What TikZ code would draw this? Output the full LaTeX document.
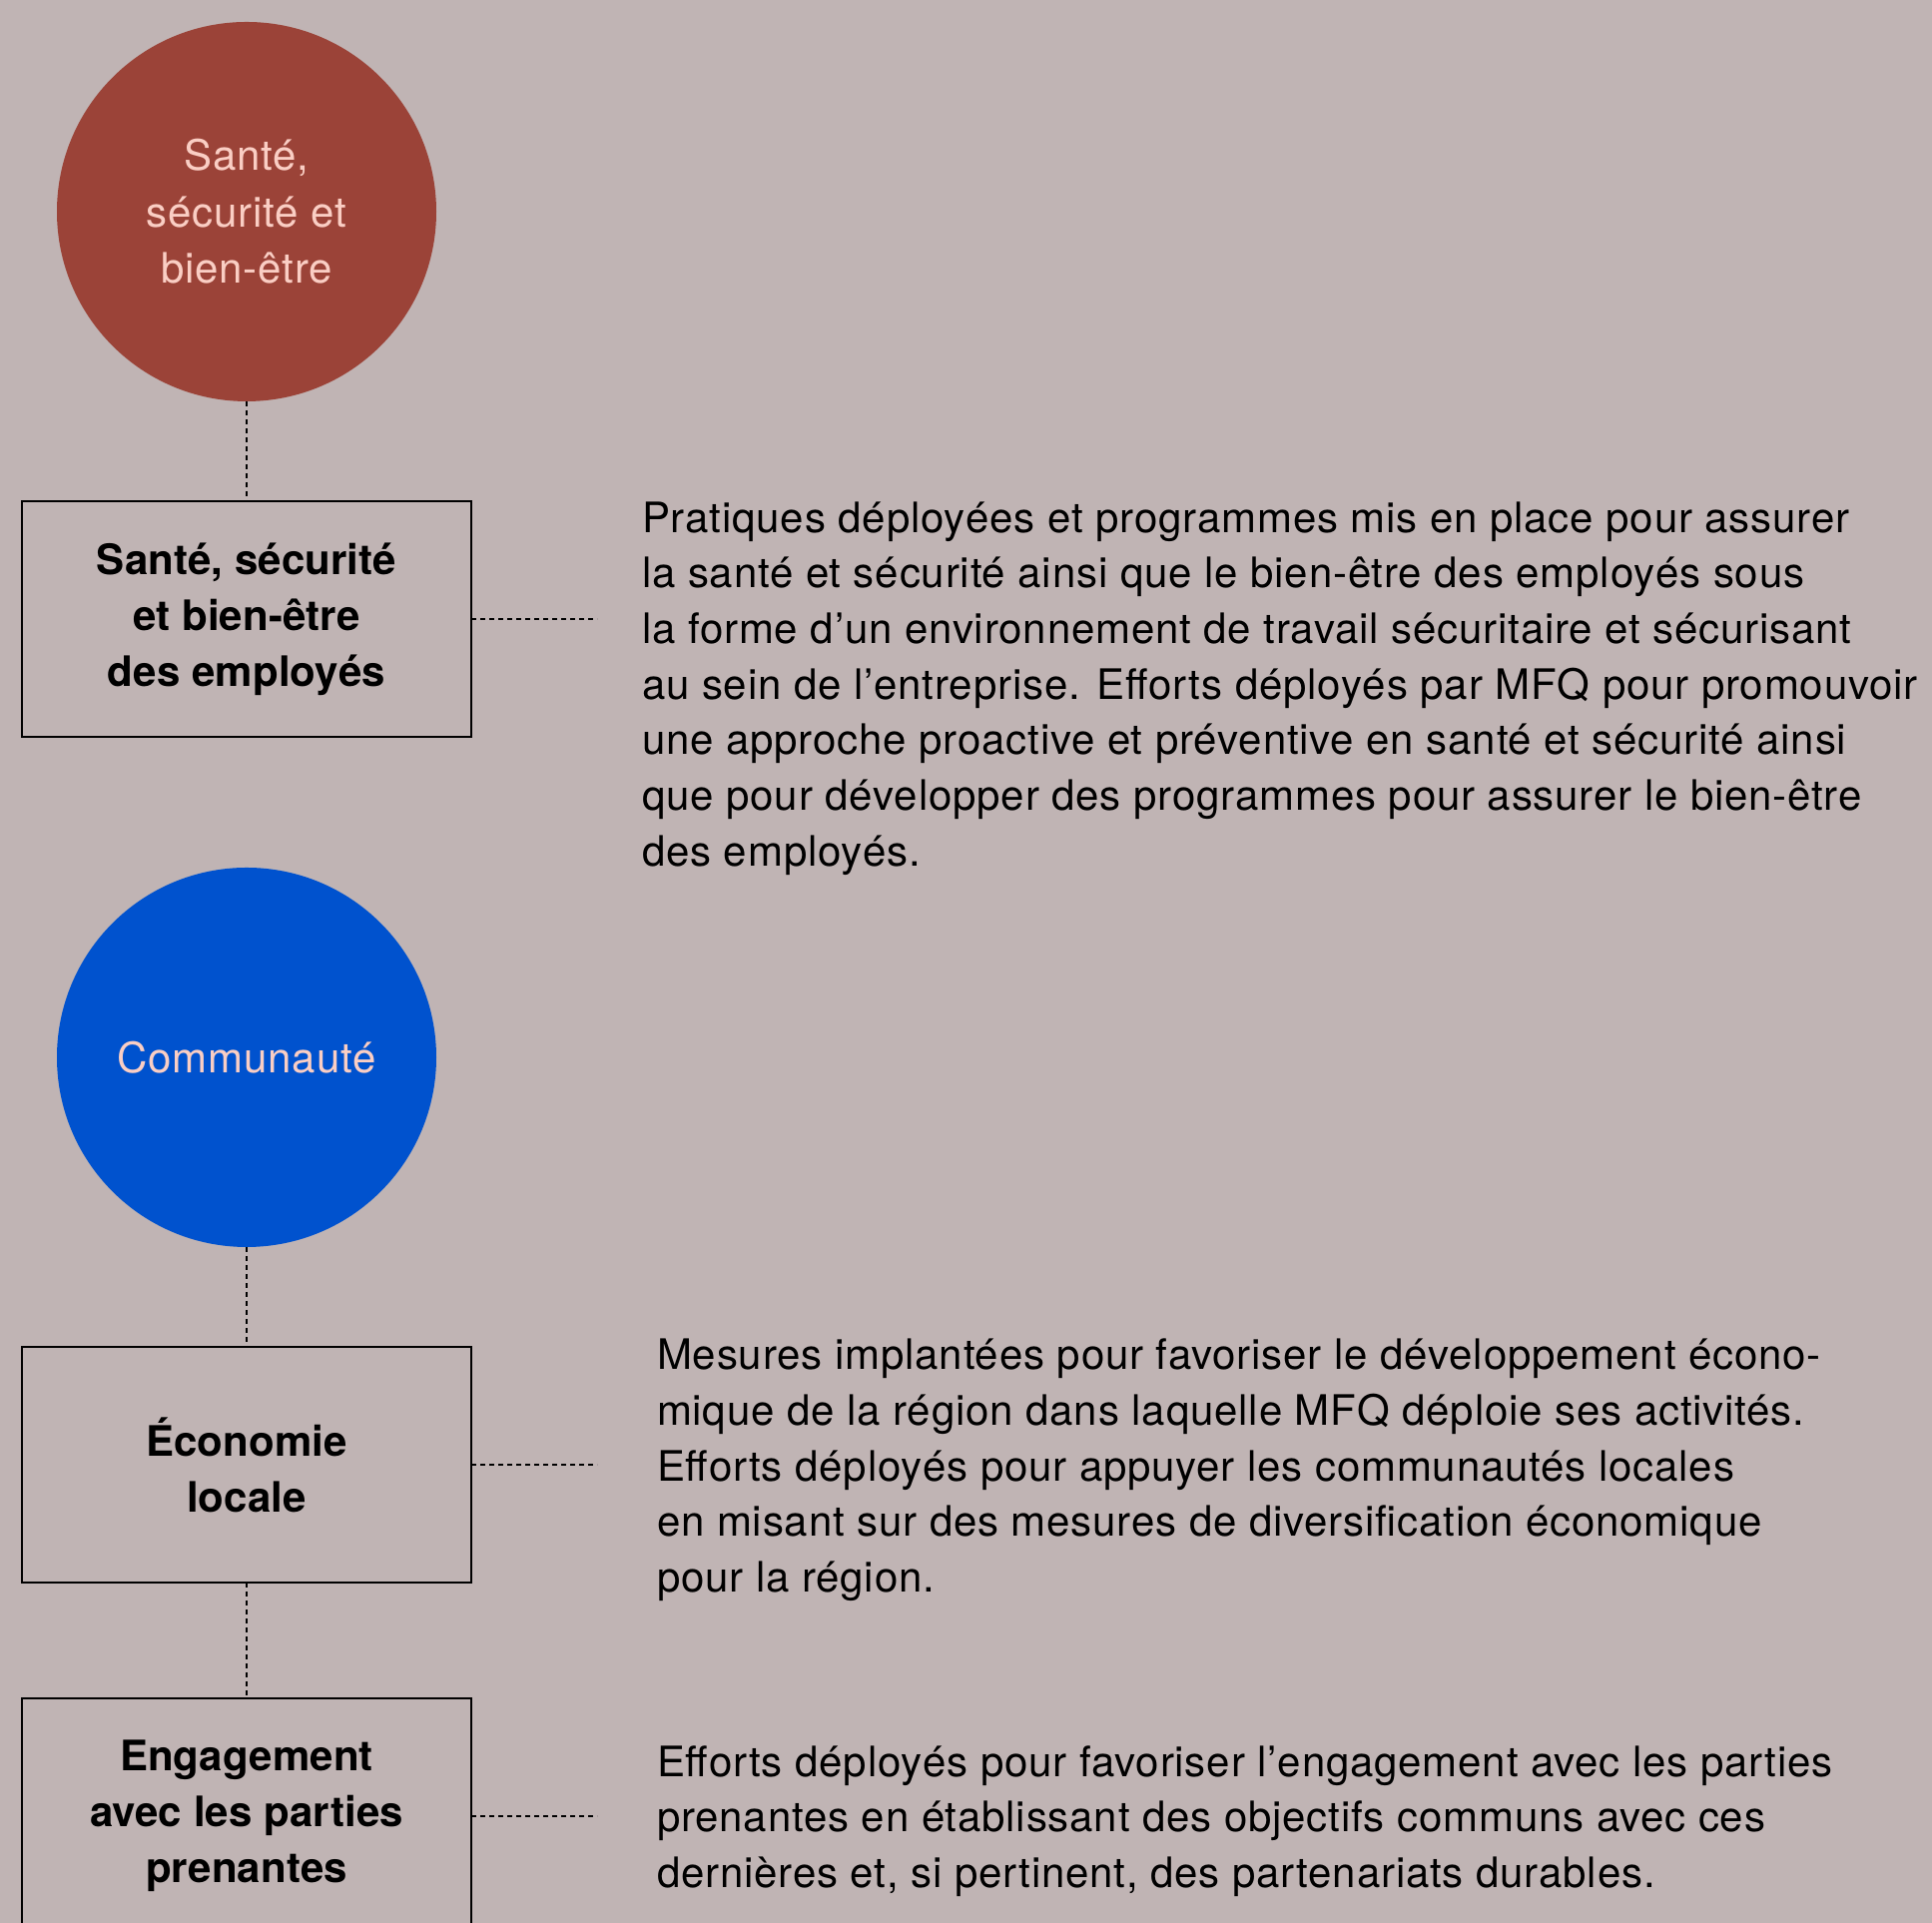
\documentclass[tikz,border=0pt]{standalone}
\usepackage{fontspec}
\setmainfont{TeX Gyre Heros}[LetterSpace=2.0, BoldFeatures={LetterSpace=0.3}]
\usepackage{tikz}
\usetikzlibrary{positioning}

\definecolor{fond}{RGB}{192,180,180}
\definecolor{brique}{RGB}{155,67,56}
\definecolor{bleu}{RGB}{0,82,206}
\definecolor{rose}{RGB}{250,206,196}

\begin{document}
\begin{tikzpicture}[x=0.5pt, y=0.5pt,
    theme/.style={circle, minimum size=190pt, inner sep=0pt, outer sep=0pt, align=center, text=rose, font=\fontsize{21}{28.2}\selectfont},
    critere/.style={rectangle, draw, line width=1.1pt, minimum width=225pt, minimum height=118pt, outer sep=0pt, align=center, font=\fontsize{21}{28}\selectfont\bfseries},
    lien/.style={line width=0.9pt, dash pattern=on 2.5pt off 2pt},
    texte/.style={anchor=north west, inner sep=0pt, outer sep=0pt, align=left, font=\fontsize{21}{27.85}\selectfont}]
    \useasboundingbox[fill=fond] (0,0) rectangle (1935,1926);

    % Thème Santé
    \node[theme, fill=brique] (sante) at (247,1714) {Santé,\\sécurité et\\bien-être};
    \node[critere, below=50pt of sante] (employes) {Santé, sécurité\\et bien-être\\des employés};

    % Thème Communauté
    \node[theme, fill=bleu, below=65.5pt of employes] (communaute) {Communauté};
    \node[critere, below=50pt of communaute] (economie) {Économie\\locale};
    \node[critere, below=58pt of economie] (engagement) {Engagement\\avec les parties\\prenantes};

    % Liens verticaux
    \draw[lien] (sante) -- (employes);
    \draw[lien] (communaute) -- (economie);
    \draw[lien] (economie) -- (engagement);

    % Liens vers les descriptions
    \coordinate (c1) at ([xshift=63pt]employes.east);
    \coordinate (c2) at ([xshift=63pt]economie.east);
    \coordinate (c3) at ([xshift=63pt]engagement.east);
    \draw[lien] (employes.east) -- (c1);
    \draw[lien] (economie.east) -- (c2);
    \draw[lien] (engagement.east) -- (c3);

    % Descriptions
    \node[texte] (desc1) at ([xshift=22.5pt, yshift=58.75pt]c1) {Pratiques déployées et programmes mis en place pour assurer\\la santé et sécurité ainsi que le bien-être des employés sous\\la forme d’un environnement de travail sécuritaire et sécurisant\\au sein de l’entreprise. Efforts déployés par MFQ pour promouvoir\\une approche proactive et préventive en santé et sécurité ainsi\\que pour développer des programmes pour assurer le bien-être\\des employés.};
    \node[texte] (desc2) at ([xshift=30pt, yshift=63pt]c2) {Mesures implantées pour favoriser le développement écono-\\mique de la région dans laquelle MFQ déploie ses activités.\\Efforts déployés pour appuyer les communautés locales\\en misant sur des mesures de diversification économique\\pour la région.};
    \node[texte] (desc3) at ([xshift=30pt, yshift=35.25pt]c3) {Efforts déployés pour favoriser l’engagement avec les parties\\prenantes en établissant des objectifs communs avec ces\\dernières et, si pertinent, des partenariats durables.};
\end{tikzpicture}
\end{document}
